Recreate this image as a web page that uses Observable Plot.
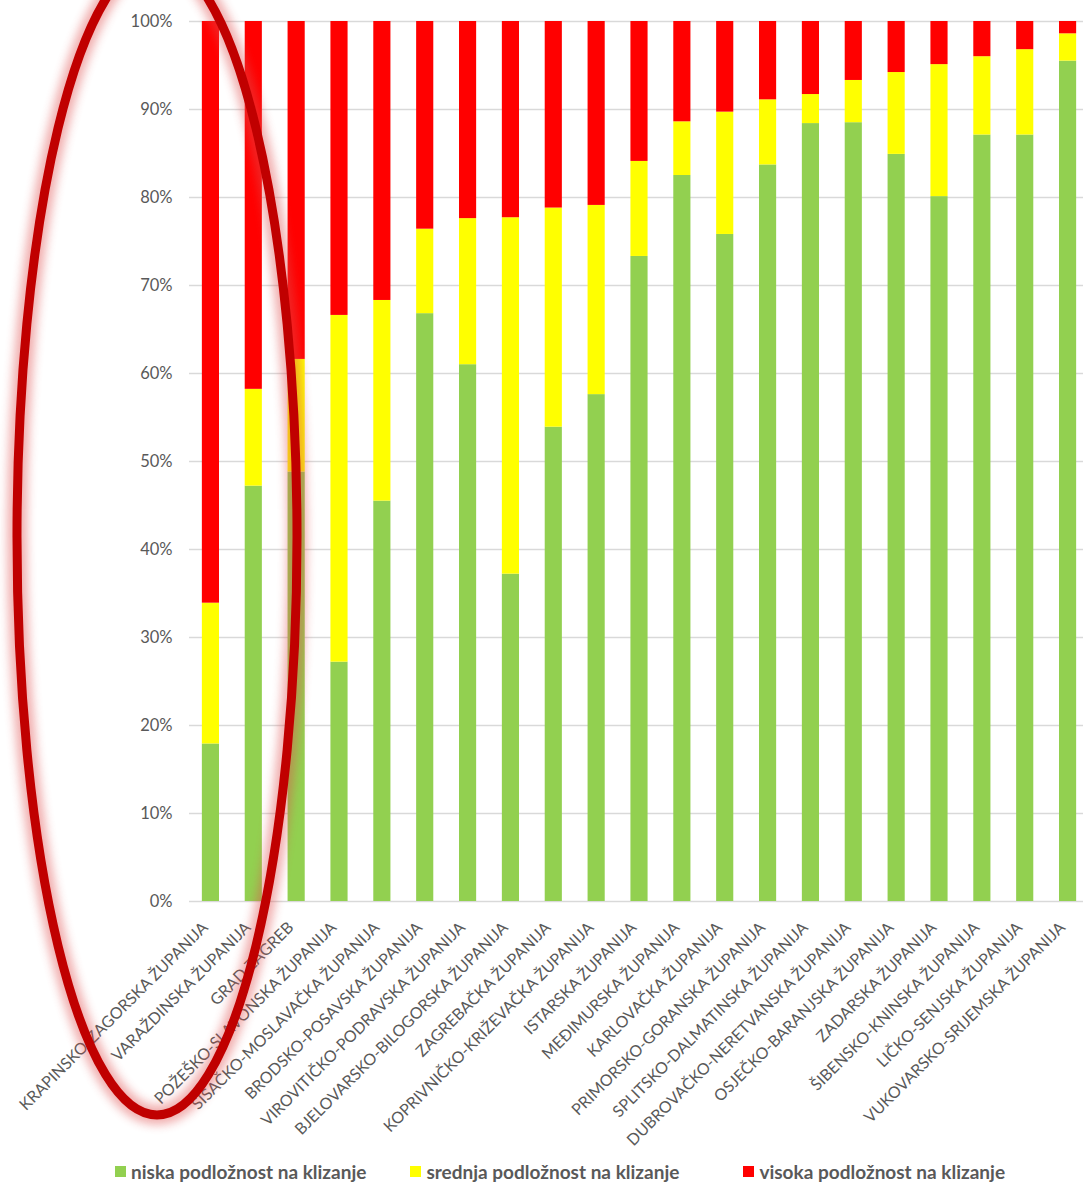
<!DOCTYPE html>
<html><head><meta charset="utf-8">
<script src="https://cdn.jsdelivr.net/npm/d3@7"></script>
<script src="https://cdn.jsdelivr.net/npm/@observablehq/plot@0.6"></script>
<style>
html,body{margin:0;padding:0;background:#fff;overflow:hidden}
#legend{height:26px;display:flex;align-items:center;padding-left:115px;font-family:Lato,sans-serif;font-weight:700;font-size:19px;color:#595959;white-space:nowrap}
.item{display:flex;align-items:center;margin-right:44px}
.item.i1{margin-right:64px}
.sw{width:11px;height:11px;margin-right:5px}
</style></head><body>
<div id="chart"></div><div id="legend"></div>
<script>
const counties = [
  "KRAPINSKO-ZAGORSKA ŽUPANIJA","VARAŽDINSKA ŽUPANIJA","GRAD ZAGREB","POŽEŠKO-SLAVONSKA ŽUPANIJA",
  "SISAČKO-MOSLAVAČKA ŽUPANIJA","BRODSKO-POSAVSKA ŽUPANIJA","VIROVITIČKO-PODRAVSKA ŽUPANIJA",
  "BJELOVARSKO-BILOGORSKA ŽUPANIJA","ZAGREBAČKA ŽUPANIJA","KOPRIVNIČKO-KRIŽEVAČKA ŽUPANIJA",
  "ISTARSKA ŽUPANIJA","MEĐIMURSKA ŽUPANIJA","KARLOVAČKA ŽUPANIJA","PRIMORSKO-GORANSKA ŽUPANIJA",
  "SPLITSKO-DALMATINSKA ŽUPANIJA","DUBROVAČKO-NERETVANSKA ŽUPANIJA","OSJEČKO-BARANJSKA ŽUPANIJA",
  "ZADARSKA ŽUPANIJA","ŠIBENSKO-KNINSKA ŽUPANIJA","LIČKO-SENJSKA ŽUPANIJA","VUKOVARSKO-SRIJEMSKA ŽUPANIJA"
];
const niska   = [17.9,47.2,48.8,27.2,45.5,66.8,61.0,37.2,53.9,57.6,73.3,82.5,75.8,83.7,88.4,88.5,84.9,80.1,87.1,87.1,95.5];
const srednja = [16.0,11.0,12.8,39.4,22.8, 9.6,16.6,40.5,24.9,21.5,10.8, 6.1,13.9, 7.4, 3.3, 4.8, 9.3,15.0, 8.9, 9.7, 3.1];
const visoka  = [66.1,41.8,38.4,33.4,31.7,23.6,22.4,22.3,21.2,20.9,15.9,11.4,10.3, 8.9, 8.3, 6.7, 5.8, 4.9, 4.0, 3.2, 1.4];
const seriesNames = ["niska podložnost na klizanje","srednja podložnost na klizanje","visoka podložnost na klizanje"];
const seriesColors = ["#92d050","#ffff00","#ff0000"];
const yTicks = [0,10,20,30,40,50,60,70,80,90,100];

const values = [niska, srednja, visoka];
const data = counties.flatMap((c, i) => seriesNames.map((s, k) => ({county: c, series: s, value: values[k][i]})));

const chart = Plot.plot({
  width: 1083, height: 1158,
  marginLeft: 189, marginRight: -6, marginTop: 21, marginBottom: 257,
  style: {fontFamily: "Lato, sans-serif", background: "#fff"},
  x: {domain: counties, paddingInner: 0.6, paddingOuter: 0.3, round: false, axis: null},
  y: {domain: [0, 100], axis: null, label: null},
  color: {domain: seriesNames, range: seriesColors},
  marks: [
    Plot.ruleY(yTicks, {stroke: "#d9d9d9", strokeWidth: 1.3}),
    Plot.barY(data, Plot.stackY({x: "county", y: "value", fill: "series", order: seriesNames})),
    Plot.axisY({ticks: yTicks, tickSize: 0, tickPadding: 17, tickFormat: d => d + "%", fontSize: 16.5, fill: "#595959", label: null}),
    Plot.text(counties, {x: d => d, text: d => d, frameAnchor: "bottom", rotate: -45, textAnchor: "end",
      dx: -2, dy: 27, fontSize: 16, fill: "#595959"})
  ]
});
document.getElementById("chart").appendChild(chart);

// annotation ellipse
const svg = d3.select(chart);
const f = svg.append("defs").append("filter").attr("id", "glow")
  .attr("x", "-50%").attr("y", "-50%").attr("width", "200%").attr("height", "200%");
f.append("feGaussianBlur").attr("stdDeviation", 5);
svg.append("ellipse").attr("cx", 157).attr("cy", 537).attr("rx", 140).attr("ry", 578)
  .attr("fill", "none").attr("stroke", "#e05050").attr("stroke-width", 20).attr("opacity", 0.45).attr("filter", "url(#glow)");
svg.append("ellipse").attr("cx", 157).attr("cy", 537).attr("rx", 140).attr("ry", 578)
  .attr("fill", "none").attr("stroke", "#c00000").attr("stroke-width", 9);

const legend = d3.select("#legend");
seriesNames.forEach((s, k) => {
  const it = legend.append("div").attr("class", "item i" + k);
  it.append("div").attr("class", "sw").style("background", seriesColors[k]);
  it.append("span").text(s);
});
</script>
</body></html>
